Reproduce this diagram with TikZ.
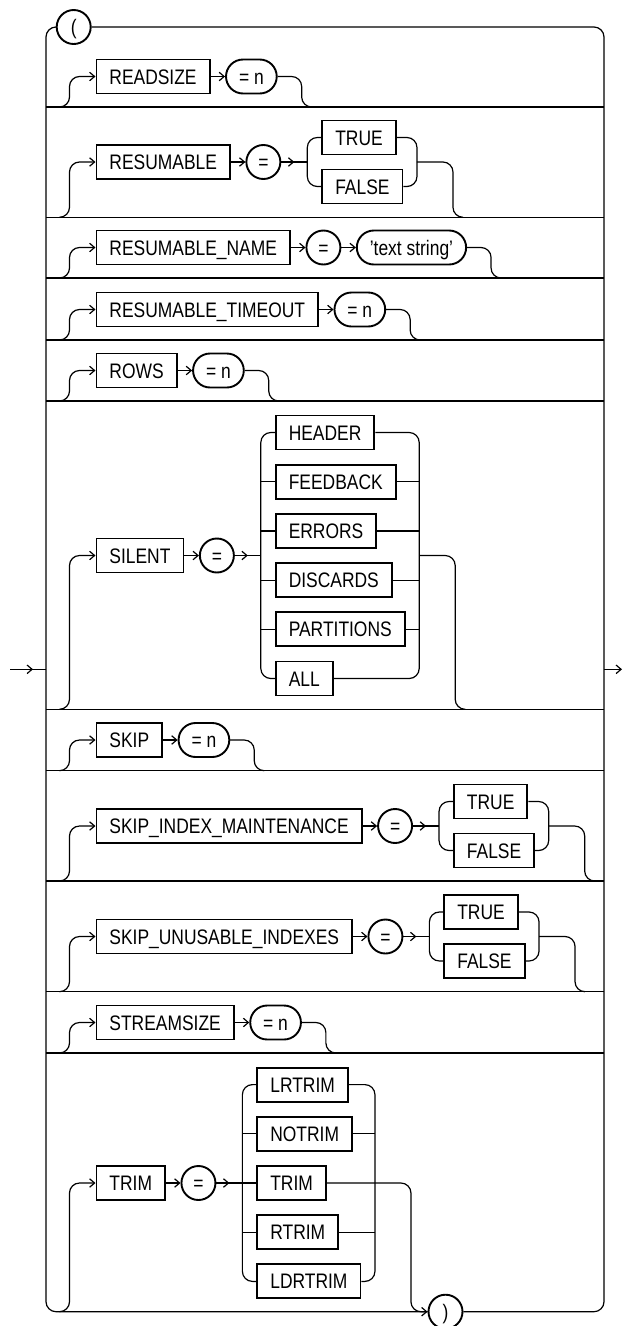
\documentclass[tikz,border=0pt]{standalone}
\usepackage{fontspec}
\setmainfont{Liberation Sans}[FakeStretch=0.83]
\usetikzlibrary{arrows.meta}
\newcommand\RRin[2]{\draw[arr, rounded corners=10pt] (#1) -| ([xshift=-26pt]#2.west) -- (#2.west);}
\newcommand\RRout[3]{\draw[ln, rounded corners=10pt] (#1) -- ++(#2,0) -- ++(0,#3) -- ++(10,0);}
\begin{document}
\begin{tikzpicture}[x=1pt,y=-1pt,
  ln/.style={line width=1.2pt},
  arr/.style={ln, -{Straight Barb[length=5pt,width=8.5pt]}},
  kw/.style={draw, line width=1.9pt, rectangle, minimum height=34pt, inner xsep=13pt, inner ysep=0pt,
             text height=15pt, text depth=0pt, font=\fontsize{21pt}{22pt}\selectfont},
  lit/.style={kw, rounded corners=17pt},
  sym/.style={kw, circle, minimum size=34pt, inner sep=0pt},
]
\useasboundingbox (0,0) rectangle (623,1326);
\fill[white] (0,0) rectangle (623,1326);

% ---------- frame ----------
\node[sym] (lp) at (73.7,27) {(};
\node[sym] (rp) at (445.5,1311.7) {)};
\coordinate (TL) at (46,27);
\coordinate (TR) at (604,27);
\coordinate (BL) at (46,1311.7);
\coordinate (BR) at (604,1311.7);
\draw[ln, rounded corners=10pt] (lp.west) -- (TL) -- (BL) -- (rp.west);
\draw[ln, rounded corners=10pt] (lp.east) -- (TR) -- (BR) -- (rp.east);

\foreach \n/\yy in {1/107, 2/217.3, 3/278, 4/340, 5/401, 6/709.3, 7/770.7, 8/881, 9/991.7, 10/1053} {
  \coordinate (sL\n) at (46,\yy);
  \coordinate (sR\n) at (604,\yy);
  \coordinate (j\n) at (59.5,\yy);
  \draw[ln] (sL\n) -- (sR\n);
}
\coordinate (j11) at (59.5,1311.7);

% entry / exit
\coordinate (inA) at (10,669.3);
\coordinate (inT) at (33,669.3);
\coordinate (inB) at (46,669.3);
\draw[ln] (inA) -- (inB);
\draw[arr] (inA) -- (inT);
\coordinate (outA) at (604,669.3);
\coordinate (outB) at (622,669.3);
\draw[arr] (outA) -- (outB);

% ---------- row 1: READSIZE ----------
\node[kw, anchor=west] (readsize) at (95.5,76.5) {READSIZE};
\node[lit, anchor=west] (readn) at ([xshift=14.5pt]readsize.east) {= n};
\RRin{j1}{readsize}
\draw[arr] (readsize.east) -- (readn.west);
\RRout{readn.east}{24}{30.5}

% ---------- row 2: RESUMABLE ----------
\node[kw, anchor=west] (resum) at (95.5,162) {RESUMABLE};
\node[sym, anchor=west] (resumeq) at ([xshift=14.5pt]resum.east) {=};
\RRin{j2}{resum}
\draw[arr] (resum.east) -- (resumeq.west);
\coordinate (resumbl) at ([xshift=26pt]resumeq.east);
\node[kw, anchor=west] (resumT) at ([xshift=40pt,yshift=24.5pt]resumeq.east) {TRUE};
\node[kw, anchor=west] (resumF) at ([xshift=40pt,yshift=-24.5pt]resumeq.east) {FALSE};
\coordinate (resumtmp) at ([xshift=13.5pt]resumF.east);
\coordinate (resumbr) at (resumtmp |- resumeq.east);
\draw[ln] (resumeq.east) -- (resumbl);
\draw[arr] (resumeq.east) -- ([xshift=13pt]resumeq.east);
\draw[ln, rounded corners=10pt] (resumT.west) -| (resumbl) |- (resumF.west);
\draw[ln, rounded corners=10pt] (resumT.east) -| (resumbr) |- (resumF.east);
\RRout{resumbr}{36}{55.3}

% ---------- row 3: RESUMABLE_NAME ----------
\node[kw, anchor=west] (rname) at (95.5,247.5) {RESUMABLE\_NAME};
\node[sym, anchor=west] (rnameeq) at ([xshift=14.5pt]rname.east) {=};
\node[lit, anchor=west] (rnamestr) at ([xshift=14.5pt]rnameeq.east) {'text string'};
\RRin{j3}{rname}
\draw[arr] (rname.east) -- (rnameeq.west);
\draw[arr] (rnameeq.east) -- (rnamestr.west);
\RRout{rnamestr.east}{24}{30.5}

% ---------- row 4: RESUMABLE_TIMEOUT ----------
\node[kw, anchor=west] (rtime) at (95.5,309.5) {RESUMABLE\_TIMEOUT};
\node[lit, anchor=west] (rtimen) at ([xshift=14.5pt]rtime.east) {= n};
\RRin{j4}{rtime}
\draw[arr] (rtime.east) -- (rtimen.west);
\RRout{rtimen.east}{24}{30.5}

% ---------- row 5: ROWS ----------
\node[kw, anchor=west] (rows) at (95.5,370.5) {ROWS};
\node[lit, anchor=west] (rowsn) at ([xshift=14.5pt]rows.east) {= n};
\RRin{j5}{rows}
\draw[arr] (rows.east) -- (rowsn.west);
\RRout{rowsn.east}{24}{30.5}

% ---------- row 6: SILENT ----------
\node[kw, anchor=west] (silent) at (95.5,555.5) {SILENT};
\node[sym, anchor=west] (sileq) at ([xshift=14.5pt]silent.east) {=};
\RRin{j6}{silent}
\draw[arr] (silent.east) -- (sileq.west);
\coordinate (silbl) at ([xshift=26pt]sileq.east);
\node[kw, anchor=west] (silA) at ([xshift=40pt,yshift=123pt]sileq.east) {HEADER};
\node[kw, anchor=west] (silB) at ([xshift=40pt,yshift=73.8pt]sileq.east) {FEEDBACK};
\node[kw, anchor=west] (silC) at ([xshift=40pt,yshift=24.6pt]sileq.east) {ERRORS};
\node[kw, anchor=west] (silD) at ([xshift=40pt,yshift=-24.6pt]sileq.east) {DISCARDS};
\node[kw, anchor=west] (silE) at ([xshift=40pt,yshift=-73.8pt]sileq.east) {PARTITIONS};
\node[kw, anchor=west] (silF) at ([xshift=40pt,yshift=-123pt]sileq.east) {ALL};
\coordinate (siltmp) at ([xshift=13.5pt]silE.east);
\coordinate (silbr) at (siltmp |- sileq.east);
\draw[ln] (sileq.east) -- (silbl);
\draw[arr] (sileq.east) -- ([xshift=13pt]sileq.east);
\draw[ln, rounded corners=10pt] (silA.west) -| (silbl) |- (silF.west);
\draw[ln, rounded corners=10pt] (silA.east) -| (silbr) |- (silF.east);
\foreach \b in {silB,silC,silD,silE} {
  \draw[ln] (\b.west -| silbl) -- (\b.west);
  \draw[ln] (\b.east) -- (\b.east -| silbr);
}
\RRout{silbr}{36}{153.8}

% ---------- row 7: SKIP ----------
\node[kw, anchor=west] (skip) at (95.5,740) {SKIP};
\node[lit, anchor=west] (skipn) at ([xshift=14.5pt]skip.east) {= n};
\RRin{j7}{skip}
\draw[arr] (skip.east) -- (skipn.west);
\RRout{skipn.east}{24}{30.7}

% ---------- row 8: SKIP_INDEX_MAINTENANCE ----------
\node[kw, anchor=west] (sim) at (95.5,826) {SKIP\_INDEX\_MAINTENANCE};
\node[sym, anchor=west] (simeq) at ([xshift=14.5pt]sim.east) {=};
\RRin{j8}{sim}
\draw[arr] (sim.east) -- (simeq.west);
\coordinate (simbl) at ([xshift=26pt]simeq.east);
\node[kw, anchor=west] (simT) at ([xshift=40pt,yshift=24.5pt]simeq.east) {TRUE};
\node[kw, anchor=west] (simF) at ([xshift=40pt,yshift=-24.5pt]simeq.east) {FALSE};
\coordinate (simtmp) at ([xshift=13.5pt]simF.east);
\coordinate (simbr) at (simtmp |- simeq.east);
\draw[ln] (simeq.east) -- (simbl);
\draw[arr] (simeq.east) -- ([xshift=13pt]simeq.east);
\draw[ln, rounded corners=10pt] (simT.west) -| (simbl) |- (simF.west);
\draw[ln, rounded corners=10pt] (simT.east) -| (simbr) |- (simF.east);
\RRout{simbr}{36}{55}

% ---------- row 9: SKIP_UNUSABLE_INDEXES ----------
\node[kw, anchor=west] (sui) at (95.5,936.5) {SKIP\_UNUSABLE\_INDEXES};
\node[sym, anchor=west] (suieq) at ([xshift=14.5pt]sui.east) {=};
\RRin{j9}{sui}
\draw[arr] (sui.east) -- (suieq.west);
\coordinate (suibl) at ([xshift=26pt]suieq.east);
\node[kw, anchor=west] (suiT) at ([xshift=40pt,yshift=24.5pt]suieq.east) {TRUE};
\node[kw, anchor=west] (suiF) at ([xshift=40pt,yshift=-24.5pt]suieq.east) {FALSE};
\coordinate (suitmp) at ([xshift=13.5pt]suiF.east);
\coordinate (suibr) at (suitmp |- suieq.east);
\draw[ln] (suieq.east) -- (suibl);
\draw[arr] (suieq.east) -- ([xshift=13pt]suieq.east);
\draw[ln, rounded corners=10pt] (suiT.west) -| (suibl) |- (suiF.west);
\draw[ln, rounded corners=10pt] (suiT.east) -| (suibr) |- (suiF.east);
\RRout{suibr}{36}{55.2}

% ---------- row 10: STREAMSIZE ----------
\node[kw, anchor=west] (stream) at (95.5,1022.5) {STREAMSIZE};
\node[lit, anchor=west] (streamn) at ([xshift=14.5pt]stream.east) {= n};
\RRin{j10}{stream}
\draw[arr] (stream.east) -- (streamn.west);
\RRout{streamn.east}{24}{30.5}

% ---------- row 11: TRIM ----------
\node[kw, anchor=west] (trim) at (95.5,1183) {TRIM};
\node[sym, anchor=west] (trimeq) at ([xshift=14.5pt]trim.east) {=};
\RRin{j11}{trim}
\draw[arr] (trim.east) -- (trimeq.west);
\coordinate (trimbl) at ([xshift=26pt]trimeq.east);
\node[kw, anchor=west] (trA) at ([xshift=40pt,yshift=98.4pt]trimeq.east) {LRTRIM};
\node[kw, anchor=west] (trB) at ([xshift=40pt,yshift=49.2pt]trimeq.east) {NOTRIM};
\node[kw, anchor=west] (trC) at ([xshift=40pt]trimeq.east) {TRIM};
\node[kw, anchor=west] (trD) at ([xshift=40pt,yshift=-49.2pt]trimeq.east) {RTRIM};
\node[kw, anchor=west] (trE) at ([xshift=40pt,yshift=-98.4pt]trimeq.east) {LDRTRIM};
\coordinate (trimtmp) at ([xshift=13.5pt]trE.east);
\coordinate (trimbr) at (trimtmp |- trimeq.east);
\coordinate (trimdown) at ([xshift=36pt]trimbr);
\draw[ln] (trimeq.east) -- (trC.west);
\draw[arr] (trimeq.east) -- ([xshift=13pt]trimeq.east);
\draw[ln, rounded corners=10pt] (trA.west) -| (trimbl) |- (trE.west);
\draw[ln, rounded corners=10pt] (trA.east) -| (trimbr) |- (trE.east);
\foreach \b in {trB,trD} {
  \draw[ln] (\b.west -| trimbl) -- (\b.west);
  \draw[ln] (\b.east) -- (\b.east -| trimbr);
}
\draw[arr, rounded corners=10pt] (trC.east) -- (trimdown) |- (rp.west);
\end{tikzpicture}
\end{document}
